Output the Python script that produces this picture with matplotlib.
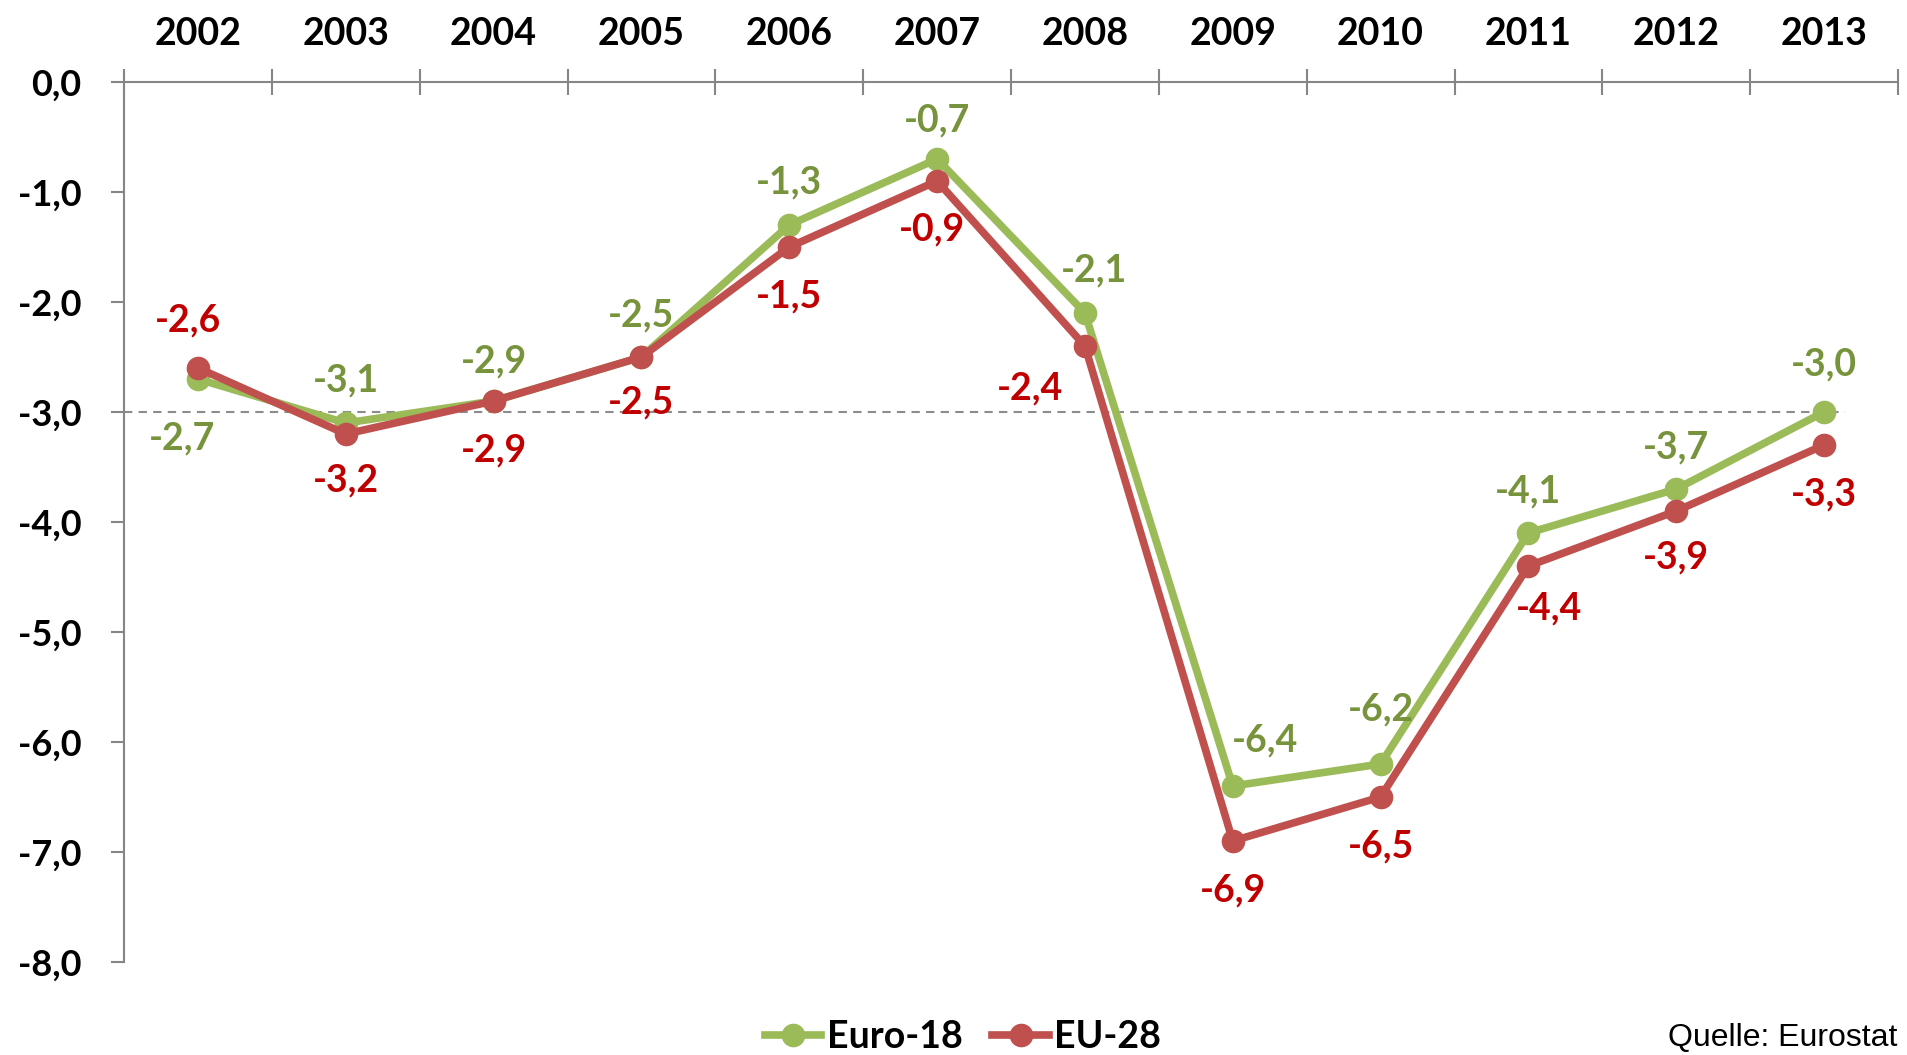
import matplotlib
matplotlib.use("Agg")
import matplotlib.pyplot as plt
from matplotlib.ticker import FixedLocator, FuncFormatter

# Daten (Finanzierungssaldo in % des BIP)
years = ["2002", "2003", "2004", "2005", "2006", "2007",
         "2008", "2009", "2010", "2011", "2012", "2013"]
euro18 = [-2.7, -3.1, -2.9, -2.5, -1.3, -0.7, -2.1, -6.4, -6.2, -4.1, -3.7, -3.0]
eu28 = [-2.6, -3.2, -2.9, -2.5, -1.5, -0.9, -2.4, -6.9, -6.5, -4.4, -3.9, -3.3]
reference_level = -3.0

# Label-Versatz in Pixeln
g_dx = [-16, 0, 0, 0, 0, 0, 9, 32, 0, 0, 0, 0]
g_dy = [-59, 43, 40, 42, 43, 39, 43, 46, 55, 42, 42, 48]
r_dx = [-10, 0, 0, 0, 0, -5, -55, 0, 0, 21, 0, 0]
r_dy = [48, -46, -49, -45, -49, -48, -42, -49, -49, -42, -46, -49]

green_line = "#9BBB59"
green_text = "#77933C"
red_line = "#C0504D"
red_text = "#C00000"
axis_gray = "#868686"

plt.rcParams["font.family"] = ["Lato", "DejaVu Sans"]

fig = plt.figure(figsize=(19.07, 10.55), dpi=100)
ax = fig.add_axes([124 / 1907, 1 - 962 / 1055, 1774 / 1907, 880 / 1055])

x = list(range(len(years)))

ax.plot([-0.5, 11.14], [reference_level, reference_level], color="#8C8C8C",
        lw=1.5, ls=(0, (4, 3)), zorder=1)

ax.plot(x, euro18, color=green_line, lw=5.5, marker="o", markersize=16,
        label="Euro-18", zorder=3)
ax.plot(x, eu28, color=red_line, lw=5.5, marker="o", markersize=16,
        label="EU-28", zorder=4)

def fmt(v):
    return ("%.1f" % v).replace(".", ",")

for i, v in enumerate(euro18):
    ax.annotate(fmt(v), (x[i], v), xytext=(g_dx[i], g_dy[i]),
                textcoords="offset pixels", ha="center", va="center",
                fontsize=27, fontweight="bold", color=green_text, zorder=5)
for i, v in enumerate(eu28):
    ax.annotate(fmt(v), (x[i], v), xytext=(r_dx[i], r_dy[i]),
                textcoords="offset pixels", ha="center", va="center",
                fontsize=27, fontweight="bold", color=red_text, zorder=5)

ax.set_xlim(-0.5, len(years) - 0.5)
ax.set_ylim(-8, 0)

# X-Achse oben bei 0
ax.xaxis.tick_top()
ax.xaxis.set_major_locator(FixedLocator([i - 0.5 for i in range(len(years) + 1)]))
ax.xaxis.set_major_formatter(FuncFormatter(lambda v, p: ""))
ax.xaxis.set_minor_locator(FixedLocator(x))
ax.set_xticklabels(years, minor=True)
ax.tick_params(axis="x", which="major", direction="inout", length=19,
               width=1.5, color=axis_gray)
ax.tick_params(axis="x", which="minor", length=0, pad=22, labelsize=27)
for lab in ax.get_xticklabels(minor=True):
    lab.set_fontweight("bold")

ax.set_yticks([0, -1, -2, -3, -4, -5, -6, -7, -8])
ax.yaxis.set_major_formatter(FuncFormatter(lambda v, p: fmt(v)))
ax.tick_params(axis="y", direction="out", length=9.5, width=1.5,
               color=axis_gray, pad=21, labelsize=26)
for lab in ax.get_yticklabels():
    lab.set_fontweight("bold")

for s in ["right", "bottom"]:
    ax.spines[s].set_visible(False)
for s in ["left", "top"]:
    ax.spines[s].set_color(axis_gray)
    ax.spines[s].set_linewidth(1.5)

leg = fig.legend(loc="center", bbox_to_anchor=(0.505, 0.017), ncol=2,
                 frameon=False, handlelength=1.5, handletextpad=0.15,
                 columnspacing=0.8, prop={"size": 27, "weight": "bold"})

fig.text(0.995, 0.002, "Quelle: Eurostat", ha="right", va="bottom",
         fontsize=23, family="Liberation Sans")

fig.savefig("out.png", dpi=100)
plt.close(fig)
